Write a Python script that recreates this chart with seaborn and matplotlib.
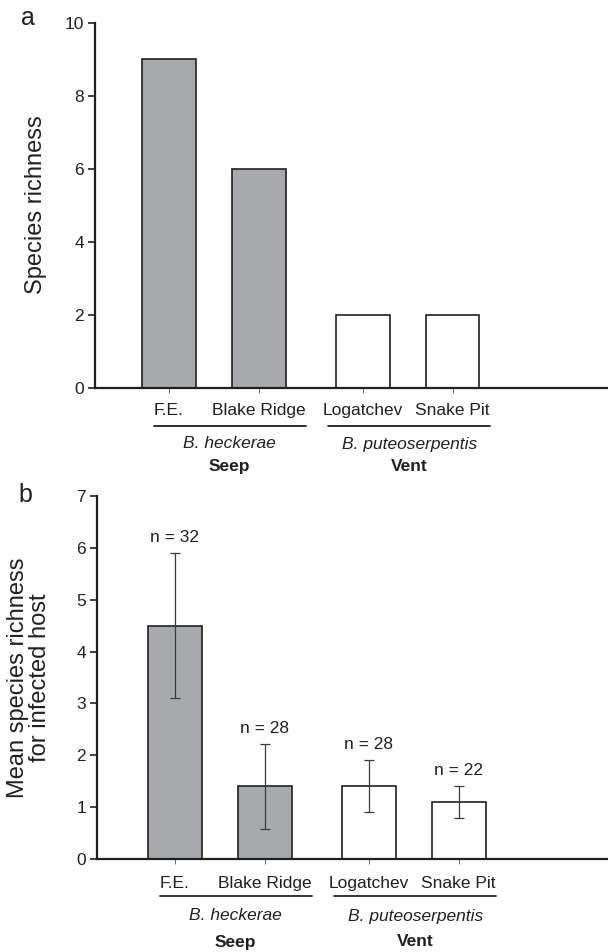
import numpy as np
import pandas as pd
import matplotlib
matplotlib.use("Agg")
import matplotlib.pyplot as plt
import matplotlib.transforms as mtransforms
import seaborn as sns

# ---------------- data ----------------
sites = ["F.E.", "Blake Ridge", "Logatchev", "Snake Pit"]
hosts = ["B. heckerae", "B. heckerae", "B. puteoserpentis", "B. puteoserpentis"]
habitats = ["Seep", "Vent"]
species_richness = [9, 6, 2, 2]
mean_richness = [4.5, 1.4, 1.4, 1.1]
err_richness = [1.4, 0.82, 0.5, 0.3]
n_hosts = [32, 28, 28, 22]

# ---------------- layout ----------------
x_pos = [0.0, 1.0, 2.15, 3.15]
W, H = 608, 952

sns.set_theme(style="ticks")
plt.rcParams["font.family"] = ["Liberation Sans", "DejaVu Sans"]
plt.rcParams["text.color"] = "#231f20"
plt.rcParams["axes.labelcolor"] = "#231f20"
plt.rcParams["xtick.color"] = "#231f20"
plt.rcParams["ytick.color"] = "#231f20"

fig = plt.figure(figsize=(W / 100, H / 100), dpi=100)

palette = {"B. heckerae": "#a8a9ad", "B. puteoserpentis": "#ffffff"}

dfa = pd.DataFrame({"pos": x_pos, "site": sites, "host": hosts, "val": species_richness})
dfb = pd.DataFrame({"pos": x_pos, "site": sites, "host": hosts, "val": mean_richness,
                    "err": err_richness, "n": n_hosts})


def make_axes(left_px, top_px, bottom_px):
    return fig.add_axes([left_px / W, 1 - bottom_px / H, (W - left_px) / W,
                         (bottom_px - top_px) / H])


def style_axes(ax, left_px, c0_px, xpad):
    for s in ["top", "right"]:
        ax.spines[s].set_visible(False)
    for s in ["left", "bottom"]:
        ax.spines[s].set_linewidth(1.6)
        ax.spines[s].set_color("#231f20")
    ax.set_xlim(-(c0_px - left_px) / 90.0, (W - c0_px) / 90.0)
    ax.set_xticks(x_pos)
    ax.set_xticklabels(sites, fontsize=12.5)
    ax.tick_params(axis="x", length=3.5, width=0.6, pad=xpad, color="#555555")
    ax.tick_params(axis="y", length=5, width=1.2, pad=3, labelsize=12.5)
    ax.set_xlabel("")
    ax.set_ylabel("")


def group_labels(ax, y_under, y_host, y_hab):
    tr = mtransforms.blended_transform_factory(ax.transData, fig.transFigure)
    groups = [(-0.17, 1.52), (1.77, 3.57)]
    for (g0, g1), host, hab in zip(groups, ["B. heckerae", "B. puteoserpentis"], habitats):
        ax.plot([g0, g1], [1 - y_under / H] * 2, transform=tr, color="#231f20",
                lw=1.3, clip_on=False)
        xc = (g0 + g1) / 2
        ax.text(xc, 1 - y_host / H, host, transform=tr, ha="center", va="center",
                fontsize=12.5, style="italic")
        ax.text(xc, 1 - y_hab / H, hab, transform=tr, ha="center", va="center",
                fontsize=12.5, weight="bold")


# ---------------- panel a ----------------
axa = make_axes(95, 23, 388)
sns.barplot(data=dfa, x="pos", y="val", hue="host", palette=palette, native_scale=True,
            dodge=False, width=0.6, saturation=1, edgecolor="#231f20", linewidth=1.2,
            legend=False, errorbar=None, ax=axa)
axa.set_ylim(0, 10)
axa.set_yticks([0, 2, 4, 6, 8, 10])
style_axes(axa, 95, 169, 7.5)
fig.text(36 / W, 1 - 205 / H, "Species richness", fontsize=17, rotation=90,
         ha="center", va="center")
group_labels(axa, 426, 444, 466)
fig.text(28 / W, 1 - 18 / H, "a", fontsize=18, ha="center", va="center")

# ---------------- panel b ----------------
axb = make_axes(97, 496, 859)
sns.barplot(data=dfb, x="pos", y="val", hue="host", palette=palette, native_scale=True,
            dodge=False, width=0.6, saturation=1, edgecolor="#231f20", linewidth=1.2,
            legend=False, errorbar=None, ax=axb)
axb.errorbar(dfb["pos"], dfb["val"], yerr=dfb["err"], fmt="none", ecolor="#3a3a3a",
             elinewidth=0.9, capsize=3.6, capthick=0.9, zorder=5)
for p, v, e, n in zip(dfb["pos"], dfb["val"], dfb["err"], dfb["n"]):
    axb.annotate(f"n = {n}", (p, v + e), xytext=(0, 6), textcoords="offset points",
                 ha="center", va="bottom", fontsize=12.5)
axb.set_ylim(0, 7)
axb.set_yticks(range(0, 8))
style_axes(axb, 97, 175, 9)
fig.text(29 / W, 1 - 678 / H, "Mean species richness\nfor infected host", fontsize=17,
         rotation=90, ha="center", va="center", linespacing=1.0, multialignment="center")
group_labels(axb, 896, 916, 942)
fig.text(25 / W, 1 - 495 / H, "b", fontsize=18, ha="center", va="center")

fig.savefig("out.png", dpi=100)
